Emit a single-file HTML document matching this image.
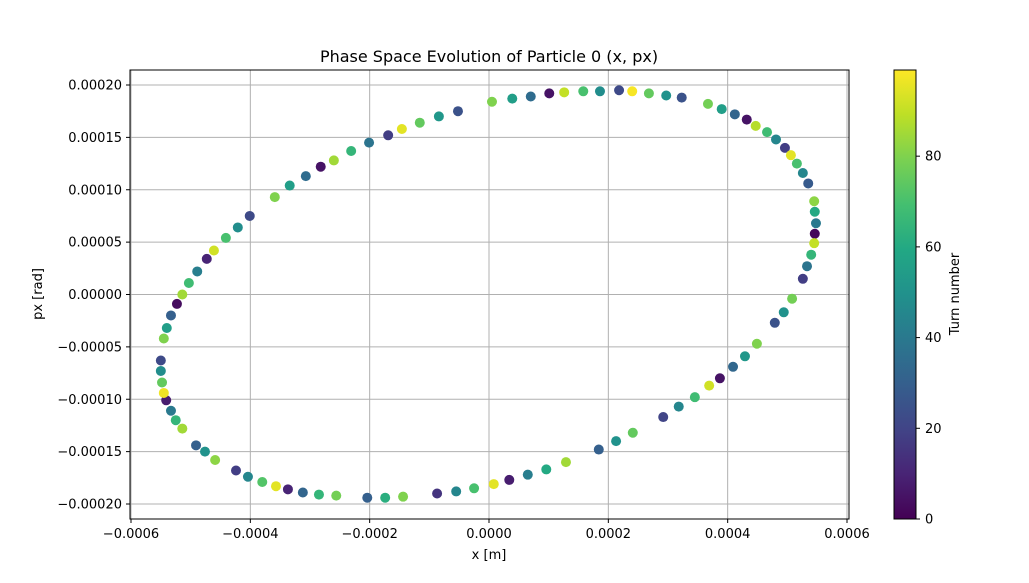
<!DOCTYPE html>
<html><head><meta charset="utf-8">
<style>
body{margin:0;background:#fff;}
svg{display:block;font-family:"DejaVu Sans","Liberation Sans",sans-serif;}
</style></head>
<body>
<svg id="chart" width="1029" height="583" xmlns="http://www.w3.org/2000/svg">
<defs>
<linearGradient id="vir" x1="0" y1="1" x2="0" y2="0">
<stop offset="0" stop-color="#440154"/><stop offset="0.1" stop-color="#482475"/>
<stop offset="0.2" stop-color="#414487"/><stop offset="0.3" stop-color="#355f8d"/>
<stop offset="0.4" stop-color="#2a788e"/><stop offset="0.5" stop-color="#21918c"/>
<stop offset="0.6" stop-color="#22a884"/><stop offset="0.7" stop-color="#44bf70"/>
<stop offset="0.8" stop-color="#7ad151"/><stop offset="0.9" stop-color="#bddf26"/>
<stop offset="1" stop-color="#fde725"/>
</linearGradient>
</defs>
<text x="489" y="62" text-anchor="middle" font-size="16">Phase Space Evolution of Particle 0 (x, px)</text>
<g id="grid"></g>
<g id="points"></g>
<rect x="130" y="70" width="719" height="449" fill="none" stroke="#000" stroke-width="1"/>
<g id="axes"></g>
<text x="489" y="559" text-anchor="middle" font-size="13">x [m]</text>
<text transform="translate(42,294) rotate(-90)" text-anchor="middle" font-size="13">px [rad]</text>
<rect x="894" y="70" width="22" height="449" fill="url(#vir)" stroke="#000" stroke-width="1"/>
<g id="cbar"></g>
<text transform="translate(959,294) rotate(-90)" text-anchor="middle" font-size="13">Turn number</text>
</svg>
<script>
// x values in units of 1e-4 m, px in units of 1e-4 rad
const xs=[0.05,0.39,0.70,1.01,1.26,1.58,1.86,2.18,2.40,2.68,2.97,3.23,3.67,3.90,4.12,4.32,4.47,4.66,4.81,4.96,5.06,5.16,5.26,5.35,5.45,5.46,5.48,5.46,5.45,5.40,5.33,5.26,5.08,4.94,4.79,4.49,4.29,4.09,3.87,3.69,3.45,3.18,2.92,2.41,2.13,1.84,1.29,0.96,0.65,0.34,0.08,-0.25,-0.55,-0.87,-1.44,-1.74,-2.04,-2.56,-2.85,-3.12,-3.37,-3.57,-3.80,-4.04,-4.24,-4.59,-4.76,-4.91,-5.14,-5.25,-5.33,-5.41,-5.45,-5.48,-5.50,-5.50,-5.45,-5.40,-5.33,-5.23,-5.14,-5.03,-4.89,-4.73,-4.61,-4.41,-4.21,-4.01,-3.59,-3.34,-3.07,-2.82,-2.60,-2.31,-2.01,-1.69,-1.46,-1.16,-0.84,-0.52];
const pxs=[1.84,1.87,1.89,1.92,1.93,1.94,1.94,1.95,1.94,1.92,1.90,1.88,1.82,1.77,1.72,1.67,1.61,1.55,1.48,1.40,1.33,1.25,1.16,1.06,0.89,0.79,0.68,0.58,0.49,0.38,0.27,0.15,-0.04,-0.17,-0.27,-0.47,-0.59,-0.69,-0.80,-0.87,-0.98,-1.07,-1.17,-1.32,-1.40,-1.48,-1.60,-1.67,-1.72,-1.77,-1.81,-1.85,-1.88,-1.90,-1.93,-1.94,-1.94,-1.92,-1.91,-1.89,-1.86,-1.83,-1.79,-1.74,-1.68,-1.58,-1.50,-1.44,-1.28,-1.20,-1.11,-1.01,-0.94,-0.84,-0.73,-0.63,-0.42,-0.32,-0.20,-0.09,0.00,0.11,0.22,0.34,0.42,0.54,0.64,0.75,0.93,1.04,1.13,1.22,1.28,1.37,1.45,1.52,1.58,1.64,1.70,1.75];
const turns=[80,55,35,5,90,70,48,22,98,75,50,25,78,55,32,5,88,68,45,18,95,70,45,28,82,60,40,2,90,65,38,18,78,50,25,80,52,33,5,92,68,45,20,75,50,30,85,60,42,8,95,70,45,15,80,62,30,78,65,32,10,95,72,45,18,82,50,30,85,65,40,8,97,75,48,22,80,55,30,3,85,68,42,10,92,70,48,22,80,55,35,5,85,65,38,18,95,75,52,25];
const xTicks=[-0.0006,-0.0004,-0.0002,0.0,0.0002,0.0004,0.0006];
const xTickLabels=["−0.0006","−0.0004","−0.0002","0.0000","0.0002","0.0004","0.0006"];
const yTicks=[-0.0002,-0.00015,-0.0001,-0.00005,0,0.00005,0.0001,0.00015,0.0002];
const yTickLabels=["−0.00020","−0.00015","−0.00010","−0.00005","0.00000","0.00005","0.00010","0.00015","0.00020"];
const cTicks=[0,20,40,60,80];

const NS="http://www.w3.org/2000/svg";
const X=v=>489+v/0.0006*358;
const Y=v=>294.5-v/0.0001*104.75;
const C=t=>519-t/99*449;
const vstops=[[68,1,84],[72,36,117],[65,68,135],[53,95,141],[42,120,142],[33,145,140],[34,168,132],[68,191,112],[122,209,81],[189,223,38],[253,231,37]];
function vir(t){let f=Math.max(0,Math.min(1,t/99))*10;let i=Math.min(9,Math.floor(f));let r=f-i;const a=vstops[i],b=vstops[i+1];return `rgb(${a.map((c,k)=>Math.round(c+(b[k]-c)*r)).join(',')})`;}
function mk(tag,attrs,parent){const e=document.createElementNS(NS,tag);for(const k in attrs)e.setAttribute(k,attrs[k]);parent.appendChild(e);return e;}
const grid=document.getElementById('grid'),axes=document.getElementById('axes'),pts=document.getElementById('points'),cb=document.getElementById('cbar');
xTicks.forEach((v,i)=>{
  const gl=mk('line',{x1:X(v),x2:X(v),y1:70,y2:519,stroke:'#b0b0b0','stroke-width':1},grid);
  
  
  const tk=mk('line',{x1:X(v),x2:X(v),y1:519,y2:523,stroke:'#000'},axes);
  
  
  const t=mk('text',{x:X(v),y:538,'text-anchor':'middle','font-size':13},axes);t.textContent=xTickLabels[i];
  
  
});
yTicks.forEach((v,i)=>{
  const gl=mk('line',{x1:130,x2:849,y1:Y(v),y2:Y(v),stroke:'#b0b0b0','stroke-width':1},grid);
  
  
  const tk=mk('line',{x1:126,x2:130,y1:Y(v),y2:Y(v),stroke:'#000'},axes);
  
  
  const t=mk('text',{x:122,y:Y(v)+4.5,'text-anchor':'end','font-size':13},axes);t.textContent=yTickLabels[i];
  
  
});
xs.forEach((v,i)=>{
  const c=mk('circle',{cx:X(v*1e-4),cy:Y(pxs[i]*1e-4),r:5,fill:vir(turns[i])},pts);
  
  
});
cTicks.forEach(v=>{
  const tk=mk('line',{x1:916,x2:920,y1:C(v),y2:C(v),stroke:'#000'},cb);
  
  
  const t=mk('text',{x:925,y:C(v)+4.5,'font-size':13},cb);t.textContent=v;
  
  
});
</script>
</body></html>
